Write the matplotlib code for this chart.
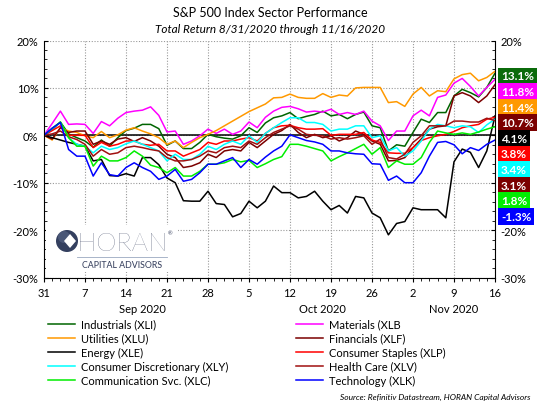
import numpy as np
import pandas as pd
import matplotlib
matplotlib.use("Agg")
import matplotlib.pyplot as plt
from matplotlib.lines import Line2D
from matplotlib.patches import Circle, Polygon

plt.rcParams['font.family'] = ['Lato', 'DejaVu Sans']

# trading days (weekdays) 8/31/2020 .. 11/16/2020, evenly spaced on the axis
dates = pd.bdate_range('2020-08-31', '2020-11-16')

# total return since 8/31/2020, in percent
industrials = [0, 1.2, 2.8, 0.3, -0.5, -1.2, -2.5, -1.0, -2.3, -0.5,
               1.0, 1.5, 2.3, 2.3, 1.4, -2.1, -1.2, -2.8, -2.8, -1.5,
               0.2, -0.3, -0.6, -0.8, -0.1, 1.6, 0.6, 2.6, 3.7, 4.1,
               4.8, 3.5, 4.0, 4.4, 5.1, 4.1, 4.4, 3.5, 4.4, 4.9,
               2.0, 1.6, -3.3, -2.0, -2.3, 0.6, 3.4, 2.7, 4.8, 4.8,
               8.3, 9.7, 9.0, 8.1, 10.1, 13.1]
materials = [0, 2.5, 5.1, 2.3, 2.4, 2.3, 0.4, 2.9, 2.0, 3.6,
             4.8, 5.1, 5.3, 6.0, 4.2, 0.7, 0.9, -1.9, -1.2, -0.1,
             1.3, 0.4, 1.3, 0.2, 0.9, 2.8, 1.6, 3.8, 5.1, 5.9,
             6.1, 5.6, 4.9, 5.1, 4.9, 5.5, 4.4, 4.8, 4.4, 5.1,
             3.0, 2.0, -1.1, 0.9, 0.9, 4.1, 5.3, 4.1, 8.0, 8.5,
             11.0, 12.0, 10.3, 8.3, 10.1, 11.8]
utilities = [0, -1.0, 1.6, 0.9, 0.6, -0.1, -0.5, 0.8, -0.5, 0.1,
             1.1, 1.6, 0.9, 0.3, -0.5, -1.9, -1.2, -2.6, -1.5, -0.5,
             0.2, 1.0, 2.0, 3.0, 4.0, 5.0, 5.8, 6.6, 7.9, 8.0,
             8.7, 8.0, 7.8, 7.8, 8.8, 8.0, 8.5, 8.3, 10.0, 10.1,
             10.1, 10.1, 6.9, 7.1, 6.1, 8.7, 10.1, 8.3, 9.4, 9.2,
             11.9, 12.8, 13.1, 11.5, 12.2, 13.5]
financials = [0, -0.8, 1.6, 0.6, 0.9, 0.9, -1.9, -1.2, -1.9, -0.8,
              -0.5, -1.3, -0.5, -1.2, -2.3, -4.0, -4.7, -6.8, -6.5, -5.8,
              -4.0, -4.7, -3.3, -3.0, -3.3, -1.5, -2.6, -1.2, 0.2, 1.0,
              2.3, 0.6, -0.5, 0.2, -0.5, -0.1, -1.2, -0.5, 0.9, 0.2,
              -1.2, -1.9, -5.4, -5.3, -4.7, -2.6, -0.8, 1.3, 1.8, 2.0,
              8.3, 9.0, 8.3, 6.9, 8.3, 10.7]
energy = [0, -0.5, -1.0, -1.5, -1.9, -2.3, -5.4, -5.1, -8.5, -8.6,
          -8.1, -8.6, -4.7, -4.7, -6.2, -9.0, -10.0, -13.8, -13.9, -13.9,
          -11.8, -14.4, -14.6, -17.2, -16.5, -13.9, -15.3, -13.9, -10.7, -12.1,
          -12.1, -13.2, -12.9, -11.8, -13.9, -15.7, -14.8, -16.4, -12.9, -13.2,
          -16.4, -17.4, -21.0, -18.6, -18.2, -15.3, -15.7, -15.7, -15.7, -17.4,
          -5.6, -2.9, -3.6, -6.8, -3.3, 4.1]
staples = [0, 1.0, 2.0, 0.0, 0.0, 0.0, -2.6, -1.5, -2.3, -1.9,
           -1.2, -1.2, -1.9, -2.1, -1.9, -3.3, -3.3, -4.4, -3.7, -3.0,
           -1.5, -1.9, -1.2, -1.2, -0.8, -0.5, -1.2, 0.4, 1.6, 2.0,
           2.1, 1.6, 1.3, 1.3, 1.4, 0.0, 0.2, 0.2, 0.2, 0.6,
           -1.0, -1.5, -3.7, -3.8, -3.8, -2.6, -1.1, -0.5, -0.1, 0.2,
           0.8, 1.6, 2.0, 2.3, 3.4, 3.8]
cons_disc = [0, 1.4, 2.7, -0.5, -1.9, -2.3, -3.7, -2.3, -3.0, -2.6,
             -1.8, -1.2, -1.9, -2.6, -3.3, -5.4, -4.0, -5.1, -5.1, -4.0,
             -2.3, -3.0, -1.9, -1.2, -1.9, -0.1, -1.5, 0.4, 1.6, 2.7,
             3.7, 3.7, 2.7, 2.7, 2.3, 0.9, 1.3, 1.3, 2.0, 2.0,
             -0.5, -0.1, -3.3, -2.6, -4.4, -3.3, -1.2, 1.3, 2.3, 2.0,
             1.6, 2.0, 1.8, 0.6, 2.2, 3.4]
health = [0, 0.3, 0.9, -0.3, -0.9, -1.9, -4.4, -3.0, -4.0, -3.7,
          -2.6, -2.3, -2.6, -3.0, -3.3, -4.7, -5.4, -5.4, -5.1, -4.4,
          -3.3, -3.7, -2.6, -2.3, -2.6, -1.2, -1.9, -0.5, 0.6, 1.3,
          2.0, 1.3, 0.2, 0.0, -0.1, -0.8, -0.5, -0.8, -0.5, -0.1,
          -1.9, -0.8, -4.7, -5.0, -4.0, -1.5, -0.1, 2.0, 2.0, 2.0,
          3.0, 3.0, 2.8, 2.8, 3.6, 3.1]
comm_svc = [0, 1.5, 2.8, -0.5, -2.3, -2.3, -6.5, -4.4, -5.4, -5.4,
            -4.7, -3.3, -4.4, -6.3, -6.8, -7.9, -6.8, -8.6, -8.6, -7.6,
            -6.1, -6.1, -5.8, -5.1, -5.6, -5.3, -6.8, -6.0, -5.1, -4.5,
            -1.9, -1.9, -2.3, -2.8, -3.3, -5.4, -4.5, -3.7, -2.8, -1.9,
            -4.0, -2.6, -6.8, -5.4, -6.1, -6.1, -4.7, -1.5, 0.9, 0.5,
            0.2, 0.5, 0.2, 0.7, 1.3, 1.8]
technology = [0, 1.5, 2.7, -3.0, -4.4, -4.4, -8.6, -5.8, -8.3, -8.6,
              -6.8, -5.8, -6.8, -7.6, -9.3, -8.6, -7.2, -9.7, -9.3, -7.9,
              -6.1, -6.1, -5.4, -4.7, -6.8, -5.1, -6.1, -4.6, -3.3, -2.3,
              0.1, -0.5, -1.1, -1.4, -1.9, -3.3, -3.3, -3.7, -3.9, -4.0,
              -6.0, -6.1, -9.5, -8.6, -10.0, -10.0, -7.9, -4.4, -1.5, -1.3,
              -2.0, -3.9, -2.6, -3.2, -1.9, -1.0]

names = ["Industrials (XLI)", "Materials (XLB", "Utilities (XLU)", "Financials (XLF)",
         "Energy (XLE)", "Consumer Staples (XLP)", "Consumer Discretionary (XLY)",
         "Health Care (XLV)", "Communication Svc. (XLC)", "Technology (XLK)"]
series = [industrials, materials, utilities, financials, energy,
          staples, cons_disc, health, comm_svc, technology]
colors = ["#006400", "#FF00FF", "#FF9900", "#7B0000", "#000000",
          "#FF0000", "#00FFFF", "#A01010", "#00EE00", "#0000FF"]

# end-of-period labels in the boxes on the right
end_labels = ["13.1%", "11.8%", "11.4%", "10.7%", "4.1%", "3.8%", "3.4%", "3.1%", "1.8%", "-1.3%"]
label_colors = ["#0B6B0B", "#FF00FF", "#FF9900", "#7B0000", "#000000",
                "#FF0000", "#00FFFF", "#7B0000", "#00EE00", "#0000FF"]

W, H = 537, 406


def fx(x):
    return x / W


def fy(y):
    return 1 - y / H


fig = plt.figure(figsize=(W / 100, H / 100), dpi=100)
ax = fig.add_axes([fx(44), fy(278.5), (495 - 44) / W, (278.5 - 41.5) / H])

x = np.arange(len(dates))
ax.axhline(0, color='black', lw=1.1, zorder=1.5)
for vals, c in zip(series, colors):
    ax.plot(x, vals, color=c, lw=1.1, zorder=2)

ax.set_xlim(0, len(dates) - 1)
ax.set_ylim(-30, 20)
major = x[::5]
ax.set_xticks(major)
ax.set_xticklabels([str(d.day) for d in dates[::5]])
ax.set_xticks(x, minor=True)
yvals = list(range(-30, 21, 10))
ax.set_yticks(yvals)
ax.set_yticklabels([f"{v}%" for v in yvals])
ax.set_yticks(np.arange(-30, 21, 2), minor=True)

ax.yaxis.set_ticks_position('both')
ax.tick_params(axis='y', which='both', direction='in', labelright=True,
               labelsize=8, pad=4)
ax.tick_params(axis='y', which='major', length=3)
ax.tick_params(axis='y', which='minor', length=2)
ax.tick_params(axis='x', which='major', direction='out', length=3, labelsize=8, pad=4)
ax.tick_params(axis='x', which='minor', direction='out', length=2)
# right-hand labels hidden behind the value boxes are left out
for v, tick in zip(yvals, ax.yaxis.get_major_ticks()):
    tick.label2.set_visible(v in (20, -20, -30))

for s in ['left', 'right', 'bottom']:
    ax.spines[s].set_color('black')
    ax.spines[s].set_linewidth(0.8)
ax.spines['top'].set_visible(False)
ax.grid(True, which='major', color='#999999', lw=0.8, linestyle=(0, (1, 1.5)))
ax.set_axisbelow(True)

# month labels under the day ticks
for pos, txt in [(12, "Sep 2020"), (34, "Oct 2020"), (50, "Nov 2020")]:
    fig.text(fx(44 + pos * 8.2), fy(310), txt, ha='center', va='center', fontsize=8)

fig.text(fx(270), fy(13), "S&P 500 Index Sector Performance", ha='center', va='center',
         fontsize=9)
fig.text(fx(270), fy(29.5), "Total Return 8/31/2020 through 11/16/2020", ha='center',
         va='center', fontsize=8.5, style='italic')

# right side value boxes
for k, (lab, c) in enumerate(zip(end_labels, label_colors)):
    fig.text(fx(501), fy(77 + 15.6 * k), lab, ha='left', va='center', color='white',
             fontsize=8.5, fontweight='bold',
             bbox=dict(boxstyle='square,pad=0.25', fc=c, ec='none'))

# legend drawn by hand, two columns
order = [0, 2, 4, 6, 8, 1, 3, 5, 7, 9]
for n, idx in enumerate(order):
    col, row = divmod(n, 5)
    x0 = 48 if col == 0 else 296
    yy = 325 + row * 14
    fig.add_artist(Line2D([fx(x0), fx(x0 + 27)], [fy(yy), fy(yy)], color=colors[idx],
                          lw=1.1, transform=fig.transFigure))
    fig.text(fx(x0 + 33), fy(yy), names[idx], ha='left', va='center', fontsize=8)

fig.text(fx(530), fy(397), "Source: Refinitiv Datastream, HORAN Capital Advisors",
         ha='right', va='center', fontsize=6, style='italic')

# logo
lax = fig.add_axes([fx(46), fy(273), 132 / W, 47 / H], zorder=3)
lax.set_xlim(46, 178)
lax.set_ylim(273, 226)
lax.set_facecolor('white')
lax.set_xticks([])
lax.set_yticks([])
for s in lax.spines.values():
    s.set_visible(False)
lax.add_patch(Circle((67, 242), 11, fc='#34405f', ec='none'))
lax.add_patch(Circle((64, 238), 6, fc='#5a6788', ec='none', alpha=0.6))
lax.add_patch(Polygon([(70, 235), (76, 242), (70, 249), (64, 242)], closed=True,
                      fc='white', ec='none'))
lax.text(77, 244, "HORAN", ha='left', va='center', fontsize=18.5, color='#3d4663',
         fontweight='light')
lax.text(168, 234, "\u00ae", ha='left', va='center', fontsize=4, color='#3d4663')
lax.plot([77, 167], [258, 258], color='#9aa8c0', lw=0.6)
lax.text(122, 265.5, "CAPITAL ADVISORS", ha='center', va='center', fontsize=6.3,
         color='#3d4663', fontweight='medium')

fig.savefig("out.png", dpi=100)
